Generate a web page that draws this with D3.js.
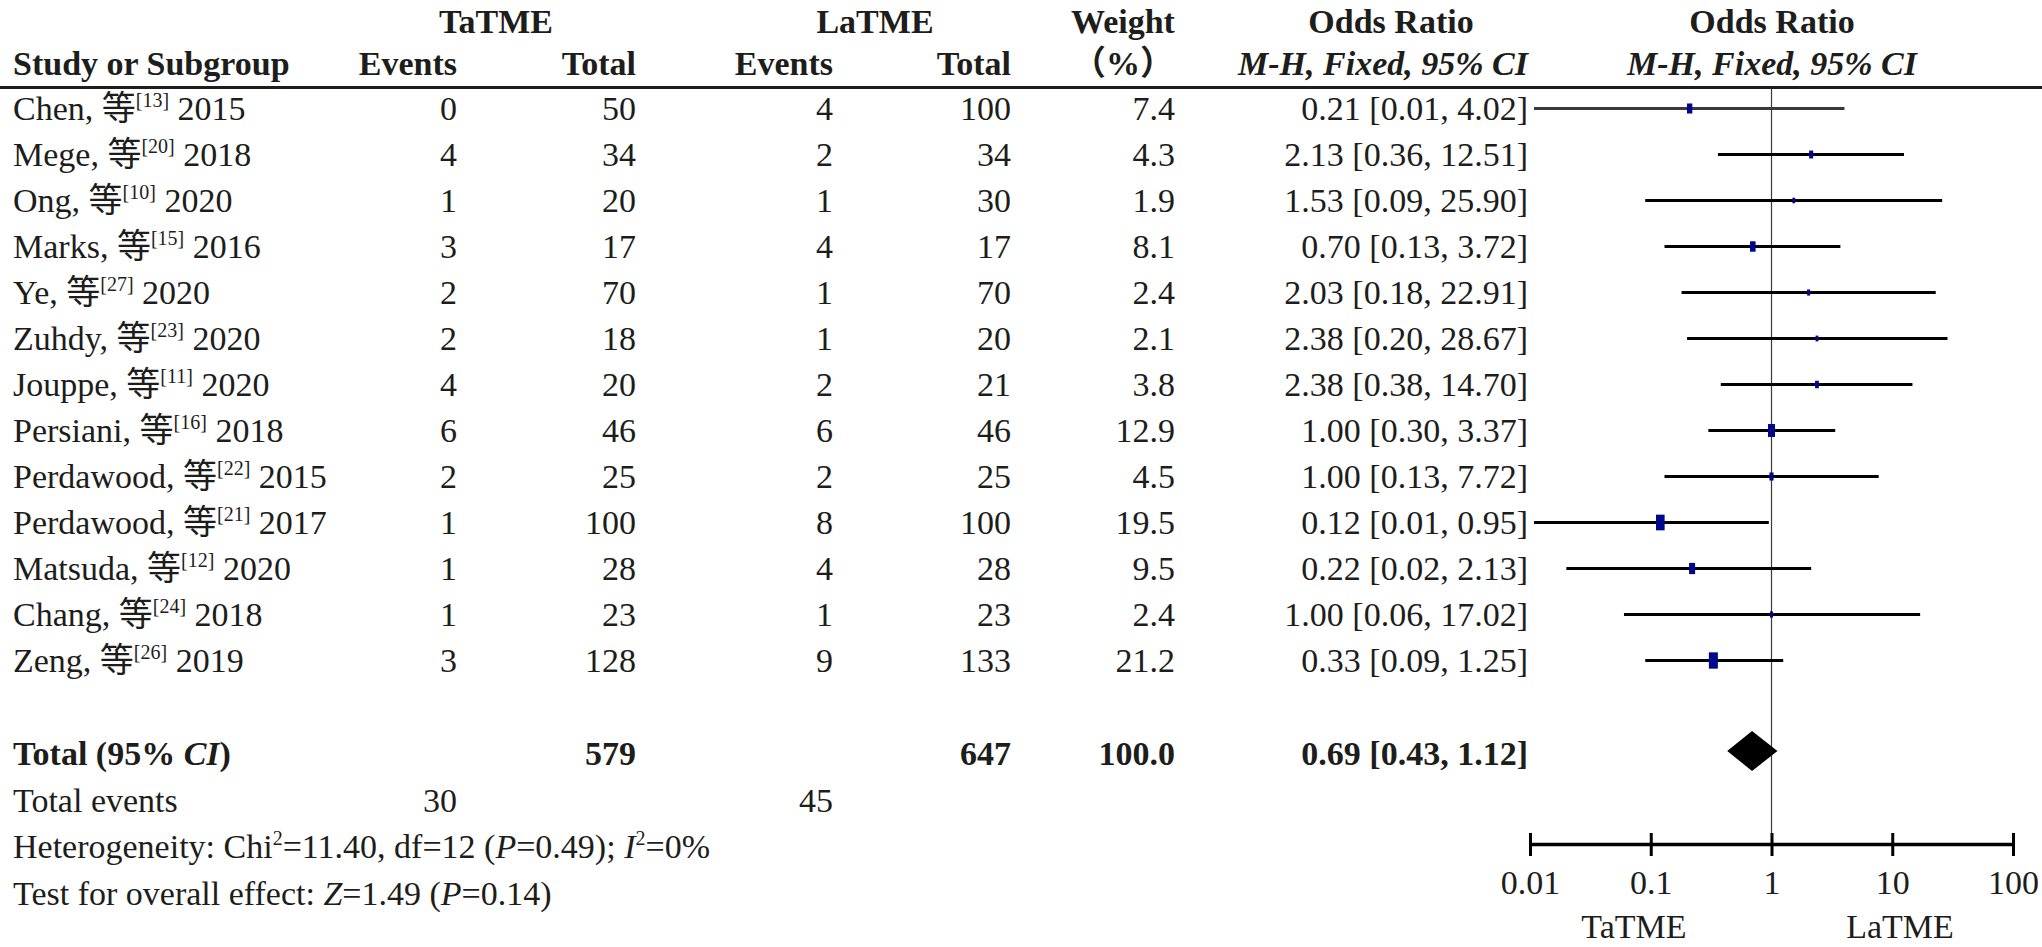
<!DOCTYPE html>
<html>
<head>
<meta charset="utf-8">
<script src="https://cdn.jsdelivr.net/npm/d3@7"></script>
<style>
  html, body { margin: 0; padding: 0; background: #fff; }
  svg { display: block; }
  text { font-family: "Liberation Serif", "Times New Roman", serif; fill: #1d1d1b; }
  .cjk { font-family: "Noto Sans CJK SC", sans-serif; }
</style>
</head>
<body>
<svg id="chart" width="2042" height="947"></svg>
<script>
// ---------------- data ----------------
const studies   = ["Chen","Mege","Ong","Marks","Ye","Zuhdy","Jouppe","Persiani","Perdawood","Perdawood","Matsuda","Chang","Zeng"];
const refs      = [13,20,10,15,27,23,11,16,22,21,12,24,26];
const years     = [2015,2018,2020,2016,2020,2020,2020,2018,2015,2017,2020,2018,2019];
const taEvents  = [0,4,1,3,2,2,4,6,2,1,1,1,3];
const taTotal   = [50,34,20,17,70,18,20,46,25,100,28,23,128];
const laEvents  = [4,2,1,4,1,1,2,6,2,8,4,1,9];
const laTotal   = [100,34,30,17,70,20,21,46,25,100,28,23,133];
const weights   = [7.4,4.3,1.9,8.1,2.4,2.1,3.8,12.9,4.5,19.5,9.5,2.4,21.2];
const oddsRatio = [0.21,2.13,1.53,0.70,2.03,2.38,2.38,1.00,1.00,0.12,0.22,1.00,0.33];
const ciLow     = [0.01,0.36,0.09,0.13,0.18,0.20,0.38,0.30,0.13,0.01,0.02,0.06,0.09];
const ciHigh    = [4.02,12.51,25.90,3.72,22.91,28.67,14.70,3.37,7.72,0.95,2.13,17.02,1.25];
const totalTa = 579, totalLa = 647, totalWeight = "100.0";
const totalEventsTa = 30, totalEventsLa = 45;
const pooled = {or: 0.69, lo: 0.43, hi: 1.12};
const tickValues = [0.01, 0.1, 1, 10, 100];
const tickLabels = ["0.01", "0.1", "1", "10", "100"];
const favourLabels = ["TaTME", "LaTME"];

// ---------------- layout ----------------
const svg = d3.select("#chart");
const FS = 34;
const rowY0 = 108.5, rowStep = 46.0;
const col = {events1: 457, total1: 636, events2: 833, total2: 1011, weight: 1175, or: 1528};

const x = d3.scaleLog().domain([0.01, 100]).range([1530, 2013]);
const boxW = d3.scaleSqrt().domain([0, 21.2]).range([0, 9]);
const rowIdx = d3.range(studies.length);
const yRow = d3.scaleLinear().domain([0, 1]).range([rowY0, rowY0 + rowStep]);

function txt(g, xx, yy, anchor, opts = {}) {
  return g.append("text").attr("x", xx).attr("y", yy)
    .attr("text-anchor", anchor)
    .style("font-size", (opts.size || FS) + "px")
    .style("font-weight", opts.bold ? "bold" : "normal")
    .style("font-style", opts.italic ? "italic" : "normal");
}
function addSpan(t, s, opts = {}) {
  const sp = t.append("tspan").text(s);
  if (opts.italic) sp.style("font-style", "italic");
  if (opts.size) sp.style("font-size", opts.size + "px");
  if (opts.dy) sp.attr("dy", opts.dy);
  if (opts.cls) sp.attr("class", opts.cls);
  return sp;
}

// ---------------- header ----------------
const hdr = svg.append("g");
txt(hdr, 496, 33, "middle", {bold: true}).text("TaTME");
txt(hdr, 875, 33, "middle", {bold: true}).text("LaTME");
txt(hdr, 1123, 33, "middle", {bold: true}).text("Weight");
txt(hdr, 1391, 33, "middle", {bold: true}).text("Odds Ratio");
txt(hdr, 1772, 33, "middle", {bold: true}).text("Odds Ratio");
txt(hdr, 13, 75, "start", {bold: true}).text("Study or Subgroup");
txt(hdr, col.events1, 75, "end", {bold: true}).text("Events");
txt(hdr, col.total1, 75, "end", {bold: true}).text("Total");
txt(hdr, col.events2, 75, "end", {bold: true}).text("Events");
txt(hdr, col.total2, 75, "end", {bold: true}).text("Total");
const pct = txt(hdr, 1123, 75, "middle", {bold: true});
addSpan(pct, "（", {cls: "cjk"});
addSpan(pct, "%");
addSpan(pct, "）", {cls: "cjk"});
txt(hdr, 1383, 75, "middle", {bold: true, italic: true}).text("M-H, Fixed, 95% CI");
txt(hdr, 1772, 75, "middle", {bold: true, italic: true}).text("M-H, Fixed, 95% CI");
svg.append("line").attr("x1", 0).attr("x2", 2042).attr("y1", 87.5).attr("y2", 87.5)
  .attr("stroke", "#1d1d1b").attr("stroke-width", 3);

// ---------------- reference line ----------------
svg.append("line").attr("x1", x(1)).attr("x2", x(1)).attr("y1", 89).attr("y2", 844)
  .attr("stroke", "#3a3a3a").attr("stroke-width", 1.2);

// ---------------- study rows ----------------
const rows = svg.append("g");
rowIdx.forEach(i => {
  const cy = yRow(i);
  const by = cy + 11;
  const t = txt(rows, 13, by, "start");
  addSpan(t, studies[i] + ", ");
  addSpan(t, "等", {cls: "cjk"});
  addSpan(t, "[" + refs[i] + "]", {size: 20, dy: -13});
  addSpan(t, " " + years[i], {dy: 13});
  txt(rows, col.events1, by, "end").text(taEvents[i]);
  txt(rows, col.total1, by, "end").text(taTotal[i]);
  txt(rows, col.events2, by, "end").text(laEvents[i]);
  txt(rows, col.total2, by, "end").text(laTotal[i]);
  txt(rows, col.weight, by, "end").text(weights[i].toFixed(1));
  txt(rows, col.or, by, "end").text(
    oddsRatio[i].toFixed(2) + " [" + ciLow[i].toFixed(2) + ", " + ciHigh[i].toFixed(2) + "]");
});

// CI lines
svg.append("g").selectAll("line").data(rowIdx).join("line")
  .attr("x1", i => Math.max(x(ciLow[i]), 1534))
  .attr("x2", i => x(ciHigh[i]))
  .attr("y1", i => yRow(i)).attr("y2", i => yRow(i))
  .attr("stroke", i => i === 0 ? "#3a3a3a" : "#000")
  .attr("stroke-width", 2.8);

// weight boxes
svg.append("g").selectAll("rect").data(rowIdx).join("rect")
  .attr("x", i => x(oddsRatio[i]) - boxW(weights[i]) / 2)
  .attr("width", i => boxW(weights[i]))
  .attr("y", i => yRow(i) - (1.7 * boxW(weights[i]) + 1) / 2)
  .attr("height", i => 1.7 * boxW(weights[i]) + 1)
  .attr("fill", "#00088c");

// ---------------- totals ----------------
const tot = svg.append("g");
const ty = 765;
const tl = txt(tot, 13, ty, "start", {bold: true});
addSpan(tl, "Total (95% ");
addSpan(tl, "CI", {italic: true});
addSpan(tl, ")");
txt(tot, col.total1, ty, "end", {bold: true}).text(totalTa);
txt(tot, col.total2, ty, "end", {bold: true}).text(totalLa);
txt(tot, col.weight, ty, "end", {bold: true}).text(totalWeight);
txt(tot, col.or, ty, "end", {bold: true}).text(
  pooled.or.toFixed(2) + " [" + pooled.lo.toFixed(2) + ", " + pooled.hi.toFixed(2) + "]");

const dcy = 751, dh = 20;
svg.append("path")
  .attr("d", d3.line()([[x(pooled.lo), dcy], [x(pooled.or), dcy - dh], [x(pooled.hi), dcy], [x(pooled.or), dcy + dh]]) + "Z")
  .attr("fill", "#000");

txt(tot, 13, 812, "start").text("Total events");
txt(tot, col.events1, 812, "end").text(totalEventsTa);
txt(tot, col.events2, 812, "end").text(totalEventsLa);

const het = txt(tot, 13, 858, "start");
addSpan(het, "Heterogeneity: Chi");
addSpan(het, "2", {size: 20, dy: -13});
addSpan(het, "=11.40, df=12 (", {dy: 13});
addSpan(het, "P", {italic: true});
addSpan(het, "=0.49); ");
addSpan(het, "I", {italic: true});
addSpan(het, "2", {size: 20, dy: -13});
addSpan(het, "=0%", {dy: 13});

const ov = txt(tot, 13, 905, "start");
addSpan(ov, "Test for overall effect: ");
addSpan(ov, "Z", {italic: true});
addSpan(ov, "=1.49 (");
addSpan(ov, "P", {italic: true});
addSpan(ov, "=0.14)");

// ---------------- axis ----------------
const axisG = svg.append("g").attr("transform", "translate(0,844)")
  .call(d3.axisBottom(x).tickValues(tickValues)
    .tickFormat((d, i) => tickLabels[i]).tickSizeOuter(0).tickSizeInner(12).tickPadding(14));
axisG.attr("font-family", null);
axisG.select(".domain").attr("stroke", "#000").attr("stroke-width", 3.5);
axisG.selectAll(".tick line").attr("stroke", "#000").attr("stroke-width", 3).attr("y1", -11).attr("y2", 12);
axisG.selectAll(".tick text")
  .style("font-size", FS + "px").style("font-weight", "normal").attr("fill", "#1d1d1b");

txt(svg, 1634, 938, "middle").text(favourLabels[0]);
txt(svg, 1900, 938, "middle").text(favourLabels[1]);
</script>
</body>
</html>
